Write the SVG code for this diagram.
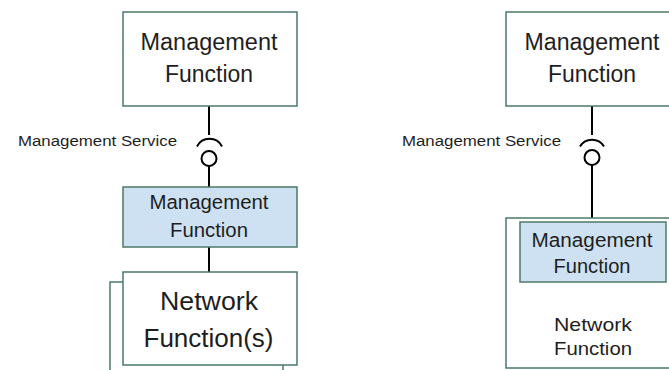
<svg xmlns="http://www.w3.org/2000/svg" width="669" height="370" viewBox="0 0 669 370">
<style>
.box{fill:#ffffff;stroke:#4b7a68;stroke-width:1.5}
.blue{fill:#cde1f2;stroke:#4b7a68;stroke-width:1.5}
.ln{stroke:#000;stroke-width:2;fill:none}
text{font-family:"Liberation Sans",Arial,sans-serif;fill:#1e1e1e;text-anchor:middle}
.lab{text-anchor:start;font-size:15.5px}
</style>
<rect width="669" height="370" fill="#ffffff"/>
<g id="connectors">
<line class="ln" x1="209" y1="106" x2="209" y2="135"/>
<path class="ln" d="M197,146.5 A14 14 0 0 1 222,146.5"/>
<circle class="ln" cx="209" cy="158.5" r="7.5"/>
<line class="ln" x1="209" y1="166" x2="209" y2="187"/>
<line class="ln" x1="209" y1="247" x2="209" y2="272"/>
<line class="ln" x1="592" y1="106" x2="592" y2="135"/>
<path class="ln" d="M580,146.5 A14 14 0 0 1 604,146.5"/>
<circle class="ln" cx="592" cy="157.5" r="7.5"/>
<line class="ln" x1="592" y1="165" x2="592" y2="218"/>
</g>
<g id="label-left">
<text class="lab" x="18" y="146" textLength="159" lengthAdjust="spacingAndGlyphs">Management Service</text>
</g>
<g id="label-right">
<text class="lab" x="402" y="146" textLength="159" lengthAdjust="spacingAndGlyphs">Management Service</text>
</g>
<g id="mf-top-left">
<rect class="box" x="123" y="12" width="174" height="94"/>
<text x="209" y="50" font-size="23" textLength="137" lengthAdjust="spacingAndGlyphs">Management</text>
<text x="209" y="82" font-size="23" textLength="88" lengthAdjust="spacingAndGlyphs">Function</text>
</g>
<g id="mf-blue-left">
<rect class="blue" x="123" y="187" width="174" height="60"/>
<text x="209" y="209" font-size="20" textLength="119" lengthAdjust="spacingAndGlyphs">Management</text>
<text x="209" y="236.5" font-size="20" textLength="78" lengthAdjust="spacingAndGlyphs">Function</text>
</g>
<g id="nf-left">
<rect class="box" x="110" y="282" width="173" height="100"/>
<rect class="box" x="123" y="272" width="174" height="93"/>
<text x="209" y="310" font-size="26" textLength="98" lengthAdjust="spacingAndGlyphs">Network</text>
<text x="208.5" y="346.5" font-size="26" textLength="130" lengthAdjust="spacingAndGlyphs">Function(s)</text>
</g>
<g id="mf-top-right">
<rect class="box" x="506" y="12" width="174" height="94"/>
<text x="592" y="50" font-size="23" textLength="135" lengthAdjust="spacingAndGlyphs">Management</text>
<text x="592" y="82" font-size="23" textLength="88" lengthAdjust="spacingAndGlyphs">Function</text>
</g>
<g id="nf-right">
<rect class="box" x="506" y="218" width="174" height="150"/>
<text x="593" y="331" font-size="19" textLength="78" lengthAdjust="spacingAndGlyphs">Network</text>
<text x="593" y="355" font-size="19" textLength="78" lengthAdjust="spacingAndGlyphs">Function</text>
</g>
<g id="mf-blue-right">
<rect class="blue" x="520" y="222" width="146" height="60"/>
<text x="592" y="246.5" font-size="20" textLength="121" lengthAdjust="spacingAndGlyphs">Management</text>
<text x="592" y="272.5" font-size="20" textLength="77" lengthAdjust="spacingAndGlyphs">Function</text>
</g>
</svg>
